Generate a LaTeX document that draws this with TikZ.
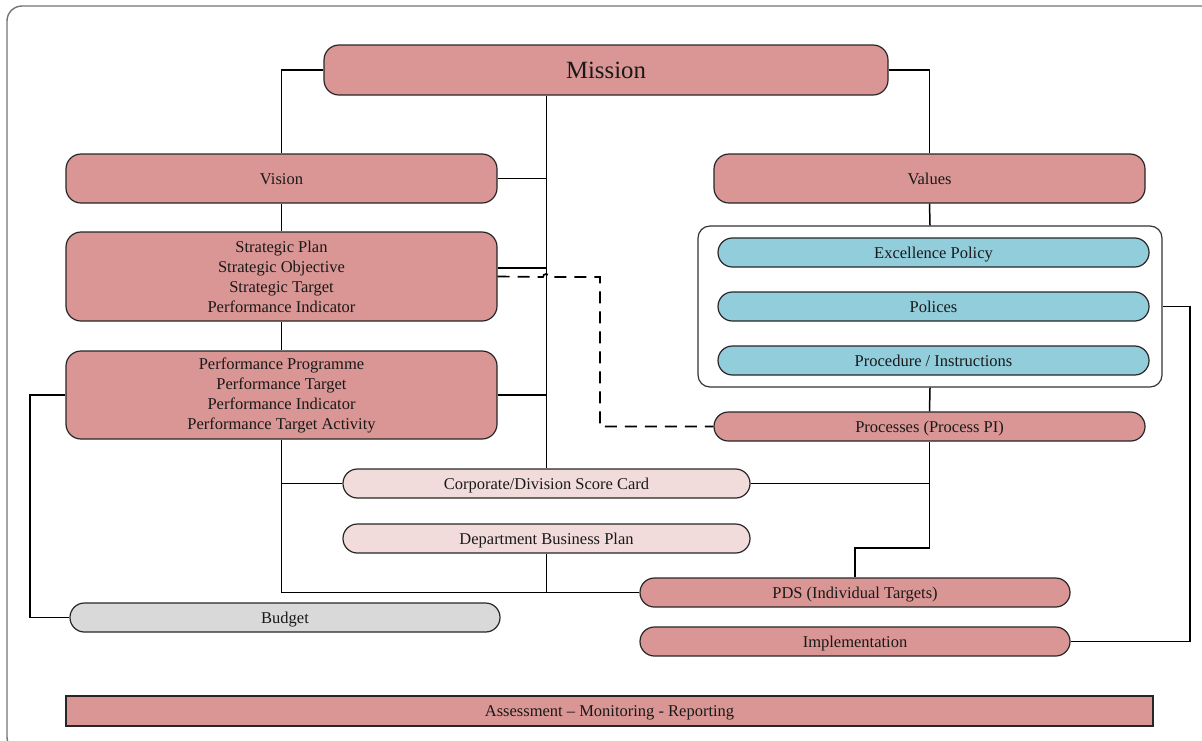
\documentclass[tikz,border=0pt]{standalone}
\usepackage{fontspec}
\setmainfont{Liberation Serif}
\begin{document}
\definecolor{salmon}{HTML}{D99694}
\definecolor{aqua}{HTML}{92CDDC}
\definecolor{blush}{HTML}{F2DCDB}
\definecolor{lightgrey}{HTML}{D9D9D9}
\begin{tikzpicture}[x=0.5pt,y=-0.5pt,
  txt/.style={font=\fontsize{8.25}{10}\selectfont, align=center, inner sep=0pt, text=black!90},
  oneline/.style={text height=5.5pt, text depth=0pt},
  bigbox/.style={txt, draw=black!85, line width=0.6pt, fill=salmon, rounded corners=7.5pt},
  pill/.style={txt, oneline, draw=black!85, line width=0.6pt, rounded corners=7.2pt, minimum height=14.5pt, minimum width=215.5pt},
  link/.style={draw=black, line width=0.75pt},
  dlink/.style={draw=black, line width=0.85pt, dash pattern=on 6pt off 4pt}]
\useasboundingbox (0,0) rectangle (1202,740);
% outer frame
\begin{scope}
\clip (0,0) rectangle (1202,740);
\draw[draw=black!55, line width=0.7pt, rounded corners=7.5pt] (7,6) rectangle (1220,752);
\end{scope}

% left column
\node[bigbox, minimum width=282pt, minimum height=25pt, font=\fontsize{12.4}{14}\selectfont, text height=8.2pt, text depth=0pt] (mission) at (606,70) {Mission};
\node[bigbox, oneline, minimum width=215.5pt, minimum height=24.5pt] (vision) at (281.5,178.5) {Vision};
\node[bigbox, oneline, minimum width=215.5pt, minimum height=24.5pt] (values) at (929.5,178.5) {Values};
\node[bigbox, minimum width=215.5pt, minimum height=44.5pt] (strat) at (281.5,276.5)
  {Strategic Plan\\Strategic Objective\\Strategic Target\\Performance Indicator};
\node[bigbox, minimum width=215.5pt, minimum height=44pt] (perf) at (281.5,395)
  {Performance Programme\\Performance Target\\Performance Indicator\\Performance Target Activity};

% policy group
\node[draw=black!80, line width=0.6pt, rounded corners=6pt, fill=white,
  minimum width=232pt, minimum height=80.5pt, inner sep=0pt] (group) at (930,306.5) {};
\node[pill, fill=aqua] (excel) at (933.5,252.5) {Excellence Policy};
\node[pill, fill=aqua] (pol) at (933.5,306.5) {Polices};
\node[pill, fill=aqua] (proc) at (933.5,360.5) {Procedure / Instructions};
\node[pill, fill=salmon] (procs) at (929.5,426.5) {Processes (Process PI)};

% lower pills
\node[pill, fill=blush, minimum width=203.5pt] (corp) at (546.5,483.5) {Corporate/Division Score Card};
\node[pill, fill=blush, minimum width=203.5pt] (dept) at (546.5,538.5) {Department Business Plan};
\node[pill, fill=salmon, minimum width=215pt] (pds) at (855,592.5) {PDS (Individual Targets)};
\node[pill, fill=salmon, minimum width=215pt] (impl) at (855,641.5) {Implementation};
\node[pill, fill=lightgrey, minimum width=215pt] (budget) at (285,617.5) {Budget};
\node[txt, oneline, draw=black!85, line width=0.6pt, fill=salmon, minimum width=543.5pt, minimum height=15pt] (assess) at (609.5,711)
  {Assessment -- Monitoring - Reporting};

% connectors
\coordinate (trunk) at (corp.north |- mission.south);
\draw[link] (mission.west) -| (vision.north);
\draw[link] (mission.east) -| (values.north);
\draw[link] (trunk) -- (corp.north);
\draw[link] (vision.east) -- (vision.east -| trunk);
\draw[link] ([yshift=4.25pt]strat.east) -- ([yshift=4.25pt]strat.east -| trunk);
\draw[link] (perf.east) -- (perf.east -| trunk);
\draw[link] (vision.south) -- (strat.north);
\draw[link] (strat.south) -- (perf.north);
\draw[link] (perf.south) |- (pds.west);
\draw[link] (perf.south |- corp.west) -- (corp.west);
\draw[link] (dept.south) -- (dept.south |- pds.west);
\draw[link] (values.south) -- (group.north);
\draw[link] (group.south) -- (procs.north);
\coordinate (bend) at (procs.south |- 0,548);
\draw[link] (procs.south) -- (bend) -| (pds.north);
\draw[link] (corp.east) -- (corp.east -| procs.south);
\coordinate (rside) at (1190,306.5);
\draw[link] (group.east) -- (rside) |- (impl.east);
\coordinate (lside) at (30,395);
\draw[link] (perf.west) -- (lside) |- (budget.west);
% dashed link with a hop over the trunk
\coordinate (hop) at (543,277);
\coordinate (dturn) at (600,277);
\draw[dlink] (strat.east) -- (hop) arc[start angle=180, end angle=0, radius=1.5pt] -- (dturn) |- (procs.west);
\end{tikzpicture}
\end{document}
